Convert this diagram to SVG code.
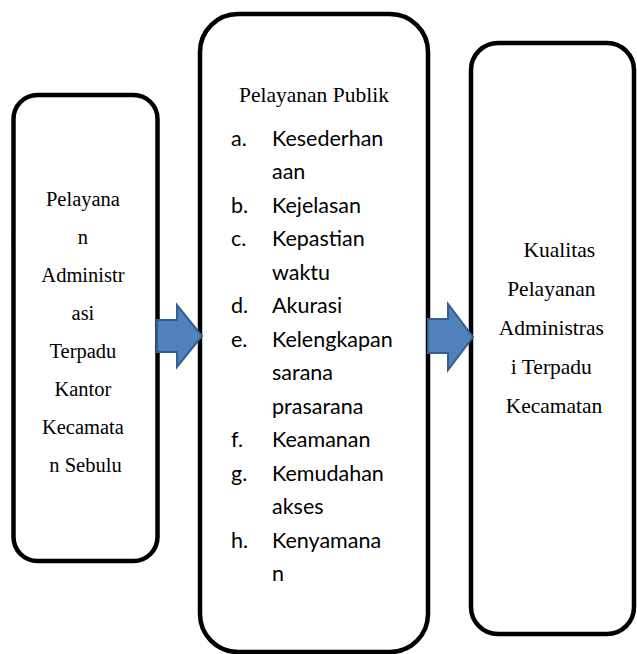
<svg xmlns="http://www.w3.org/2000/svg" width="637" height="654" viewBox="0 0 637 654">
  <style>
    .box { fill: #ffffff; stroke: #000000; stroke-width: 4.5; }
    .serif { font-family: "Liberation Serif", "Times New Roman", serif; font-size: 21.5px; fill: #000000; }
    .serif-sm { font-family: "Liberation Serif", "Times New Roman", serif; font-size: 20.5px; fill: #000000; }
    .sans { font-family: Lato, "Open Sans", sans-serif; font-size: 21.5px; fill: #000000; }
    .arrow { fill: #4F81BD; stroke: #385D8A; stroke-width: 2; stroke-linejoin: miter; }
  </style>

  <rect width="637" height="654" fill="#ffffff"/>

  <!-- Left node: input -->
  <g id="node-pelayanan-administrasi">
    <rect class="box" x="13.5" y="95" width="144" height="466" rx="24" ry="24"/>
    <text class="serif-sm" text-anchor="middle">
      <tspan x="85.5" y="206">Pelayana</tspan>
      <tspan x="85.5" y="244">n</tspan>
      <tspan x="85.5" y="282">Administr</tspan>
      <tspan x="85.5" y="320">asi</tspan>
      <tspan x="85.5" y="358">Terpadu</tspan>
      <tspan x="85.5" y="396">Kantor</tspan>
      <tspan x="85.5" y="434">Kecamata</tspan>
      <tspan x="85.5" y="472">n Sebulu</tspan>
    </text>
  </g>

  <!-- Middle node: public service indicators -->
  <g id="node-pelayanan-publik">
    <rect class="box" x="200" y="14" width="228" height="638" rx="38" ry="38"/>
    <text class="serif" x="239" y="102">Pelayanan Publik</text>
    <g class="sans">
      <text x="231" y="146">a.</text><text x="272" y="146">Kesederhan</text>
      <text x="272" y="179">aan</text>
      <text x="231" y="213">b.</text><text x="272" y="213">Kejelasan</text>
      <text x="231" y="246">c.</text><text x="272" y="246">Kepastian</text>
      <text x="272" y="280">waktu</text>
      <text x="231" y="313">d.</text><text x="272" y="313">Akurasi</text>
      <text x="231" y="347">e.</text><text x="272" y="347">Kelengkapan</text>
      <text x="272" y="380">sarana</text>
      <text x="272" y="414">prasarana</text>
      <text x="231" y="447">f.</text><text x="272" y="447">Keamanan</text>
      <text x="231" y="481">g.</text><text x="272" y="481">Kemudahan</text>
      <text x="272" y="514">akses</text>
      <text x="231" y="548">h.</text><text x="272" y="548">Kenyamana</text>
      <text x="272" y="581">n</text>
    </g>
  </g>

  <!-- Right node: outcome -->
  <g id="node-kualitas-pelayanan">
    <rect class="box" x="471" y="43" width="163" height="591" rx="27" ry="27"/>
    <text class="serif" text-anchor="middle">
      <tspan x="562" y="257">Kualitas</tspan>
      <tspan x="554" y="296">Pelayanan</tspan>
      <tspan x="554" y="335">Administras</tspan>
      <tspan x="554" y="374">i Terpadu</tspan>
      <tspan x="554" y="413">Kecamatan</tspan>
    </text>
  </g>

  <!-- Block arrows between nodes -->
  <g id="connectors">
    <polygon class="arrow" points="157,320 177,320 177,305 202,336 177,367 177,352 157,352"/>
    <polygon class="arrow" points="428,319 448,319 448,304 473,337 448,370 448,353 428,353"/>
  </g>
</svg>
